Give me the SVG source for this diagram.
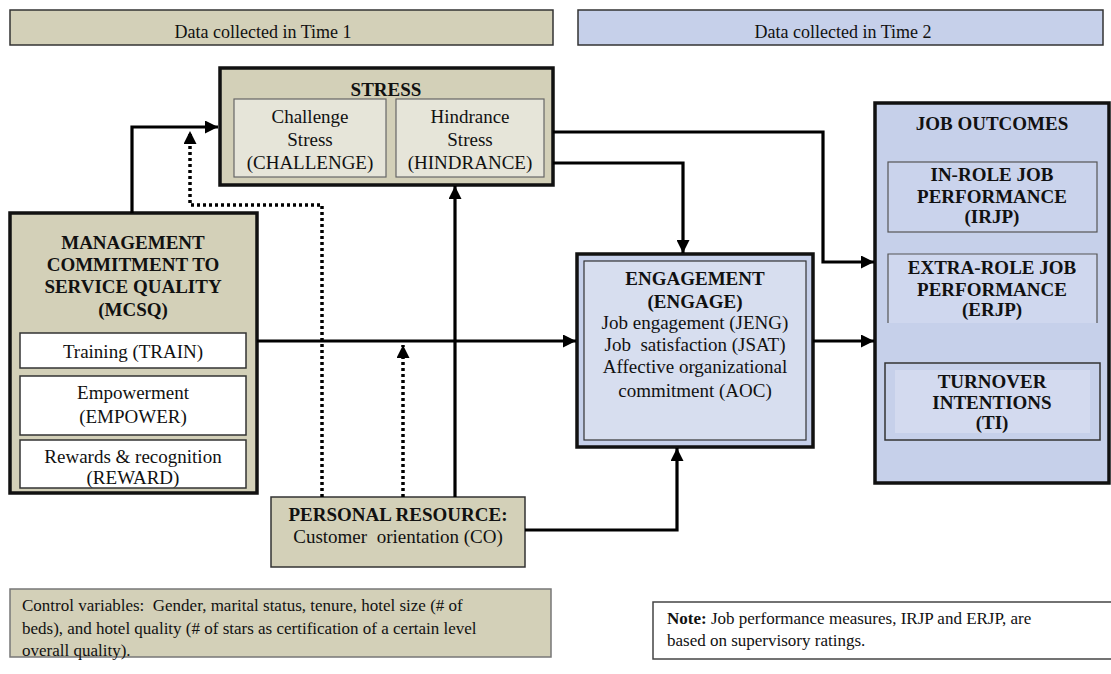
<svg xmlns="http://www.w3.org/2000/svg" width="1111" height="674" viewBox="0 0 1111 674">
<style>
text{font-family:"Liberation Serif","DejaVu Serif",serif;fill:#111;}
.c{text-anchor:middle;font-size:19px;}
.b{font-weight:bold;}
.h{text-anchor:middle;font-size:18px;}
.n{font-size:17px;}
.tan{fill:#d3d0b8;}
.blue{fill:#c6d0ea;}
.thick{stroke:#111;stroke-width:3.5;}
.thin{stroke:#333;stroke-width:1.5;}
.ln{fill:none;stroke:#000;stroke-width:3.2;}
.dot{fill:none;stroke:#000;stroke-width:3.5;stroke-dasharray:3 3;}
</style>
<defs>
<marker id="ah" markerUnits="userSpaceOnUse" markerWidth="15" markerHeight="13" refX="13" refY="6.5" orient="auto">
<path d="M0,0 L13,6.5 L0,13 Z" fill="#000"/>
</marker>
</defs>
<g font-family="Liberation Serif, DejaVu Serif, serif">
<g id="header1"><rect x="10" y="10" width="543" height="35" class="tan" stroke="#333" stroke-width="1.5"/><text class="h" x="263" y="38">Data collected in Time 1</text></g>
<g id="header2"><rect x="578" y="10" width="525" height="35" class="blue" stroke="#333" stroke-width="1.5"/><text class="h" x="843" y="38">Data collected in Time 2</text></g>
<g id="stress">
<rect x="220" y="68" width="333" height="117" class="tan thick"/>
<text class="c b" x="386" y="96">STRESS</text>
<rect x="234" y="99" width="152" height="78" fill="#e6e5d9" stroke="#666" stroke-width="1.2"/>
<text class="c" x="310" y="123">Challenge</text><text class="c" x="310" y="146">Stress</text><text class="c" x="310" y="169">(CHALLENGE)</text>
<rect x="396" y="99" width="148" height="78" fill="#e6e5d9" stroke="#666" stroke-width="1.2"/>
<text class="c" x="470" y="123">Hindrance</text><text class="c" x="470" y="146">Stress</text><text class="c" x="470" y="169">(HINDRANCE)</text>
</g>
<g id="mcsq">
<rect x="10" y="213" width="247" height="280" class="tan thick"/>
<text class="c b" x="133" y="249">MANAGEMENT</text>
<text class="c b" x="133" y="271">COMMITMENT TO</text>
<text class="c b" x="133" y="293">SERVICE QUALITY</text>
<text class="c b" x="133" y="316">(MCSQ)</text>
<rect x="20" y="333" width="226" height="35" fill="#fff" class="thin"/>
<text class="c" x="133" y="358">Training (TRAIN)</text>
<rect x="20" y="376" width="226" height="59" fill="#fff" class="thin"/>
<text class="c" x="133" y="399">Empowerment</text><text class="c" x="133" y="423">(EMPOWER)</text>
<rect x="20" y="440" width="226" height="48" fill="#fff" class="thin"/>
<text class="c" x="133" y="463">Rewards &amp; recognition</text><text class="c" x="133" y="484">(REWARD)</text>
</g>
<g id="engagement">
<rect x="577" y="254" width="236" height="193" class="blue thick"/>
<rect x="584" y="261" width="222" height="179" fill="#d7deef" stroke="#333" stroke-width="1.2"/>
<text class="c b" x="695" y="285">ENGAGEMENT</text>
<text class="c b" x="695" y="308">(ENGAGE)</text>
<text class="c" x="695" y="329">Job engagement (JENG)</text>
<text class="c" x="695" y="351" xml:space="preserve">Job  satisfaction (JSAT)</text>
<text class="c" x="695" y="373">Affective organizational</text>
<text class="c" x="695" y="397">commitment (AOC)</text>
</g>
<g id="outcomes">
<rect x="875" y="103" width="234" height="380" class="blue thick"/>
<text class="c b" x="992" y="130">JOB OUTCOMES</text>
<rect x="888" y="162" width="209" height="70" fill="#cad3ec" stroke="#555" stroke-width="1.2"/>
<text class="c b" x="992" y="181">IN-ROLE JOB</text><text class="c b" x="992" y="203">PERFORMANCE</text><text class="c b" x="992" y="223">(IRJP)</text>
<rect x="888" y="254" width="209" height="69" fill="#cfd7ee"/>
<path d="M888,323 V254 H1097 V323" fill="none" stroke="#555" stroke-width="1.2"/>
<text class="c b" x="992" y="274">EXTRA-ROLE JOB</text><text class="c b" x="992" y="296">PERFORMANCE</text><text class="c b" x="992" y="316">(ERJP)</text>
<rect x="885" y="363" width="215" height="77" fill="#c6d0ea" stroke="#333" stroke-width="1.5"/>
<rect x="895" y="370" width="195" height="63" fill="#d3daef"/>
<text class="c b" x="992" y="388">TURNOVER</text><text class="c b" x="992" y="409">INTENTIONS</text><text class="c b" x="992" y="429">(TI)</text>
</g>
<g id="personal">
<rect x="271" y="497" width="254" height="70" class="tan" stroke="#333" stroke-width="1.5"/>
<text class="c b" x="398" y="521">PERSONAL RESOURCE:</text>
<text class="c" x="398" y="543" xml:space="preserve">Customer  orientation (CO)</text>
</g>
<g id="controls">
<rect x="10" y="589" width="541" height="68" class="tan" stroke="#777" stroke-width="1.5"/>
<text class="n" x="22" y="611" xml:space="preserve">Control variables:  Gender, marital status, tenure, hotel size (# of</text>
<text class="n" x="22" y="634">beds), and hotel quality (# of stars as certification of a certain level</text>
<text class="n" x="22" y="656">overall quality).</text>
</g>
<g id="note">
<rect x="653" y="602" width="465" height="57" fill="#fff" stroke="#444" stroke-width="1.5"/>
<text class="n" x="667" y="624"><tspan font-weight="bold">Note:</tspan> Job performance measures, IRJP and ERJP, are</text>
<text class="n" x="667" y="646">based on supervisory ratings.</text>
</g>
</g>
<g id="connectors">
<path class="ln" d="M132,213 V127 H218" marker-end="url(#ah)"/>
<path class="dot" d="M322,497 V205 H190 V131" marker-end="url(#ah)"/>
<path class="dot" d="M403,497 V345" marker-end="url(#ah)"/>
<path class="ln" d="M455,497 V186" marker-end="url(#ah)"/>
<path class="ln" d="M257,341 H576" marker-end="url(#ah)"/>
<path class="ln" d="M553,163 H683 V253" marker-end="url(#ah)"/>
<path class="ln" d="M553,132 H823 V262 H874" marker-end="url(#ah)"/>
<path class="ln" d="M813,341 H874" marker-end="url(#ah)"/>
<path class="ln" d="M525,530 H677 V448" marker-end="url(#ah)"/>
</g>
</svg>
